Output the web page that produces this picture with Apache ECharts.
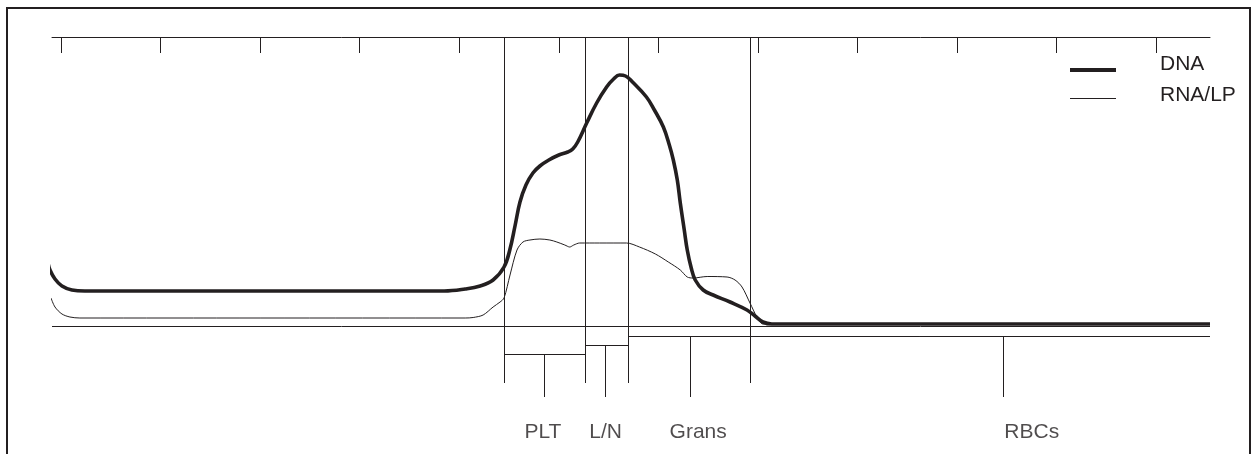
<!DOCTYPE html>
<html>
<head>
<meta charset="utf-8">
<script src="https://cdn.jsdelivr.net/npm/echarts@6/dist/echarts.min.js"></script>
<style>
  html, body { margin: 0; padding: 0; background: #fff; }
  #chart { width: 1256px; height: 454px; }
</style>
</head>
<body>
<div id="chart"></div>
<script>
'use strict';
// channel (x) / signal (y) pairs
var dnaCurve = [
  [-13, 63], [-11, 56], [-6, 47], [1, 40], [11, 36], [24, 35], [150, 35], [300, 35], [385, 35],
  [406, 37], [421, 40], [434, 46], [445, 59], [451, 77], [456, 100], [461, 124],
  [467, 141], [474, 153], [481, 160], [490, 166], [500, 171], [509, 174], [514, 177], [519, 184],
  [528, 203], [538, 223], [548, 239], [555, 247], [561, 251], [567, 250], [574, 244], [588, 229],
  [596, 216], [605, 199], [611, 181], [615, 166], [619, 146], [622, 123], [626, 96], [629, 76],
  [633, 58], [637, 46], [645, 36], [655, 31], [672, 24], [689, 16], [697, 10], [705, 4],
  [714, 2], [727, 2], [900, 2], [1154, 2]
];
var rnaCurve = [
  [-10, 28], [-6, 19], [1, 12], [9, 9], [19, 8], [200, 8], [406, 8], [414, 8.5], [424, 11],
  [434, 19], [441, 24], [445, 28], [451, 51], [458, 76], [464, 84], [471, 86], [481, 87],
  [491, 86], [498, 84], [506, 81], [511, 79], [515, 81], [521, 83], [541, 83], [568, 83],
  [581, 79], [597, 72], [610, 64], [622, 56], [629, 49], [635, 48], [649, 49.5], [669, 49],
  [677, 46], [684, 39], [692, 23], [699, 9], [705, 2], [717, 2], [1154, 2]
];
var seriesNames = ['DNA', 'RNA/LP'];
var topTicks = [0, 100, 200, 300, 400, 500, 600, 700, 800, 900, 1000, 1100];

// gates and region markers
var gates = [445, 527, 570, 692];
var regions = ['PLT', 'L/N', 'Grans', 'RBCs'];
var regionFrom = [445, 527, 570, 570];
var regionTo = [527, 570, 1154, 1154];
var regionLevel = [-28, -19, -10, -10];
var regionTick = [485, 547, 632, 946];
var regionLabelX = [484, 547, 640, 975];

var ink = '#231f20';
var xMin = -9, xMax = 1154, yMin = -128, yMax = 289;
var gateBottom = -57, tickBottom = -71, labelY = -106;

var segs = [];
segs.push({ coords: [[xMin, 0], [xMax, 0]] });
gates.forEach(function (g) {
  segs.push({ coords: [[g, yMax], [g, gateBottom]] });
});
regions.forEach(function (r, i) {
  segs.push({ coords: [[regionFrom[i], regionLevel[i]], [regionTo[i], regionLevel[i]]] });
  segs.push({ coords: [[regionTick[i], regionLevel[i]], [regionTick[i], tickBottom]] });
});

var myChart = echarts.init(document.getElementById('chart'), null, { renderer: 'canvas' });

var font = '21px "Liberation Sans", Arial, sans-serif';

var option = {
  animation: false,
  backgroundColor: '#fff',
  grid: { left: 52, right: 46, top: 37, bottom: 0 },
  xAxis: {
    type: 'value',
    position: 'top',
    min: xMin,
    max: xMax,
    axisLine: { show: true, onZero: false, lineStyle: { color: ink, width: 1 } },
    axisTick: { show: true, inside: true, length: 16, customValues: topTicks, lineStyle: { color: ink, width: 1 } },
    axisLabel: { show: false },
    splitLine: { show: false }
  },
  yAxis: {
    type: 'value',
    min: yMin,
    max: yMax,
    show: false,
    splitLine: { show: false }
  },
  graphic: [
    { type: 'rect', shape: { x: 7, y: 8, width: 1243, height: 470 }, style: { fill: 'none', stroke: ink, lineWidth: 2 }, z: 10 },
    { type: 'line', shape: { x1: 1070, y1: 70, x2: 1116, y2: 70 }, style: { stroke: ink, lineWidth: 4 } },
    { type: 'line', shape: { x1: 1070, y1: 98.5, x2: 1116, y2: 98.5 }, style: { stroke: ink, lineWidth: 1 } },
    { type: 'text', x: 1160, y: 64, style: { text: seriesNames[0], fill: ink, font: font, textVerticalAlign: 'middle' } },
    { type: 'text', x: 1160, y: 95, style: { text: seriesNames[1], fill: ink, font: font, textVerticalAlign: 'middle' } }
  ],
  series: [
    {
      type: 'lines',
      coordinateSystem: 'cartesian2d',
      data: segs,
      lineStyle: { color: ink, width: 1, opacity: 1 },
      silent: true
    },
    {
      name: seriesNames[1],
      type: 'line',
      data: rnaCurve,
      showSymbol: false,
      smooth: 0.3,
      clip: false,
      lineStyle: { color: ink, width: 1 }
    },
    {
      name: seriesNames[0],
      type: 'line',
      data: dnaCurve,
      showSymbol: false,
      smooth: 0.4,
      clip: false,
      lineStyle: { color: ink, width: 3.6 }
    },
    {
      type: 'scatter',
      symbolSize: 0,
      data: regions.map(function (r, i) { return { name: r, value: [regionLabelX[i], labelY] }; }),
      label: {
        show: true,
        position: 'inside',
        formatter: '{b}',
        color: ink,
        fontSize: 21,
        fontFamily: '"Liberation Sans", Arial, sans-serif'
      },
      silent: true
    }
  ]
};

myChart.setOption(option);
</script>
</body>
</html>
